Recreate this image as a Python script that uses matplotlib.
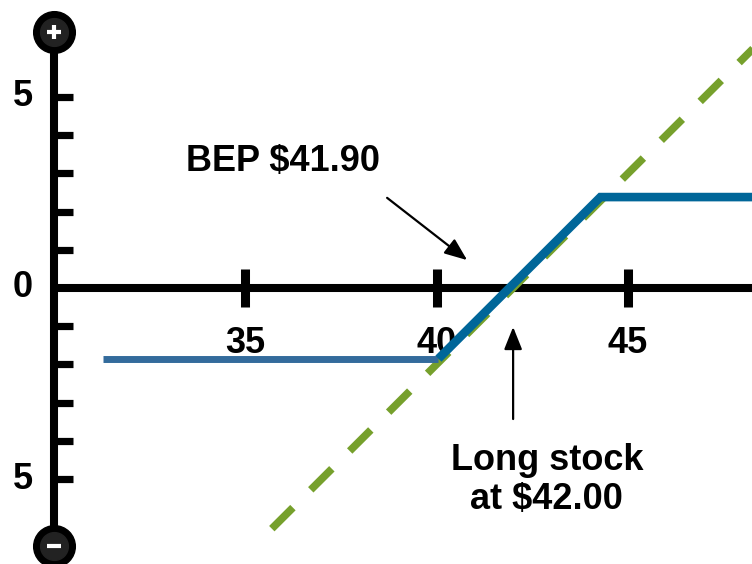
import matplotlib
matplotlib.use('Agg')
from matplotlib import pyplot

pyplot.rcParams['font.family'] = ['Liberation Sans', 'DejaVu Sans']

# strike axis
x_ticks = [35, 40, 45]
x_tick_labels = ['35', '40', '45']
# profit / loss axis
y_minor_ticks = [-5, -4, -3, -2, -1, 1, 2, 3, 4, 5]
y_label_values = [5, 0, -5]
y_tick_labels = ['5', '0', '5']

# long stock bought at $42.00
stock_price = 42.00
stock_x = [35.7, 49.0]

# collar payoff: floor, break-even and cap
break_even = 41.90
floor_pl = -1.85
cap_pl = 2.38
floor_x = [31.3, break_even + floor_pl]
floor_y = [floor_pl, floor_pl]
collar_x = [break_even + floor_pl, break_even + cap_pl, 49.0]
collar_y = [floor_pl, cap_pl, cap_pl]

GREEN = '#76a02c'
BLUE = '#006699'
BLUE_LIGHT = '#336b9c'

fig = pyplot.figure(figsize=(7.52, 5.64), dpi=100)
ax = fig.add_axes([0, 0, 1, 1])
ax.set_xlim(28.603, 48.237)
ax.set_ylim(-7.225, 7.539)
ax.axis('off')

# axes drawn by hand
ax.plot([30, 49], [0, 0], color='black', lw=5.8, solid_capstyle='butt', zorder=2)
ax.plot([30, 30], [-6.75, 6.70], color='black', lw=5.8, solid_capstyle='butt', zorder=2)
for xt in x_ticks:
    ax.plot([xt, xt], [-0.5, 0.5], color='black', lw=6.5, solid_capstyle='butt', zorder=2)
for yt in y_minor_ticks:
    ax.plot([30, 30.5], [yt, yt], color='black', lw=5.2, solid_capstyle='butt', zorder=2)

for xt, lab in zip(x_ticks, x_tick_labels):
    ax.text(xt, -1.44, lab, fontsize=26, fontweight='bold', ha='center', va='center', zorder=1)
for yv, lab in zip(y_label_values, y_tick_labels):
    ax.text(29.46, yv, lab, fontsize=26, fontweight='bold', ha='right', va='center', zorder=1)

# plus / minus caps on the vertical axis
for yc, sign in [(6.70, '+'), (-6.75, '_')]:
    ax.plot(30, yc, 'o', ms=30, color='black', zorder=6)
    ax.plot(30, yc, 'o', ms=20, color='#222222', zorder=7)
    ax.plot(30, yc, marker=sign, ms=10, mew=3, color='white', zorder=8)

# long stock line
stock_y = [x - stock_price for x in stock_x]
ax.plot(stock_x, stock_y, color=GREEN, lw=5.5, ls=(0, (3.9, 3.3)),
        dash_capstyle='butt', zorder=3)

# collar
ax.plot(floor_x, floor_y, color=BLUE_LIGHT, lw=5.0, solid_capstyle='butt', zorder=4)
ax.plot(collar_x, collar_y, color=BLUE, lw=6.2, solid_capstyle='butt',
        solid_joinstyle='miter', zorder=4)

arrow = dict(arrowstyle='-|>,head_length=0.55,head_width=0.22', mutation_scale=25,
             color='black', lw=1.6, shrinkA=0, shrinkB=0)
ax.text(35.99, 3.30, 'BEP $41.90', fontsize=26, fontweight='bold',
        ha='center', va='center', zorder=5)
ax.annotate('', xy=(40.80, 0.73), xytext=(38.71, 2.36), arrowprops=arrow, zorder=5)

ax.text(42.88, -5.03, 'Long stock\nat $42.00', fontsize=26, fontweight='bold',
        ha='center', va='center', multialignment='center', linespacing=1.15, zorder=5)
ax.annotate('', xy=(stock_price, -1.02), xytext=(stock_price, -3.43), arrowprops=arrow, zorder=5)

fig.savefig('out.png', dpi=100)
